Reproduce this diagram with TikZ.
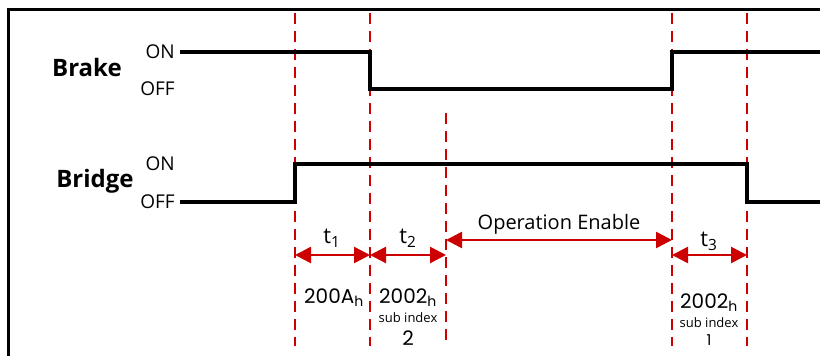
\documentclass[tikz,border=0pt]{standalone}
\usepackage{fontspec}
\setmainfont{Open Sans}
\newfontfamily\hexfont{Poppins}
\usetikzlibrary{arrows.meta}
\definecolor{markred}{RGB}{204,0,0}

\tikzset{
  signal/.style={line width=3.3pt, line join=miter},
  marker/.style={markred, line width=2pt, dash pattern=on 11pt off 7pt},
  span/.style={markred, line width=2.5pt,
    {Triangle[length=16pt,width=16pt]}-{Triangle[length=16pt,width=16pt]}},
  level/.style={anchor=east, inner sep=1pt, font=\fontsize{19}{19}\selectfont},
  channel/.style={inner sep=0pt, font=\bfseries\fontsize{24}{24}\selectfont},
  phase/.style={inner sep=0pt, font=\fontsize{22}{22}\selectfont},
  objno/.style={inner sep=0pt, font=\hexfont\fontsize{20}{20}\selectfont},
  subno/.style={inner sep=0pt, font=\fontsize{13}{13}\selectfont},
}

\begin{document}
\begin{tikzpicture}[x=1pt, y=-1pt]
  \clip (0,0) rectangle (820,356);
  % Frame
  \draw[line width=3pt] (8,9) rectangle (860,420);

  % Time markers
  \foreach \name/\x/\top in {m1/295/13, m2/370/13, m3/446/113, m4/672/13, m5/747/13} {
    \draw[marker] (\x,\top) -- (\x,346);
    \coordinate (\name) at (\x,0);
  }

  % Brake
  \node[channel] (brake) at (87,67) {Brake};
  \node[level] (brakeOn) at (176,52) {ON};
  \node[level] (brakeOff) at (176,89) {OFF};
  \draw[signal] ([xshift=4pt]brakeOn.east) -- (m2 |- brakeOn) -- (m2 |- brakeOff)
    -- (m4 |- brakeOff) -- (m4 |- brakeOn) -- (830,52);

  % Bridge
  \node[channel] (bridge) at (95,181) {Bridge};
  \node[level] (bridgeOn) at (176,164) {ON};
  \node[level] (bridgeOff) at (176,202) {OFF};
  \draw[signal] ([xshift=4pt]bridgeOff.east) -- (m1 |- bridgeOff) -- (m1 |- bridgeOn)
    -- (m5 |- bridgeOn) -- (m5 |- bridgeOff) -- (830,202);

  % Phases
  \draw[span] (m1 |- 0,255) -- (m2 |- 0,255);
  \draw[span] (m2 |- 0,255) -- (m3 |- 0,255);
  \draw[span] (m3 |- 0,240) -- (m4 |- 0,240);
  \draw[span] (m4 |- 0,255) -- (m5 |- 0,255);
  \node[phase] (t1) at (332,238) {t\textsubscript{1}};
  \node[phase] (t2) at (408,238) {t\textsubscript{2}};
  \node[phase, font=\fontsize{20}{20}\selectfont] (opEnable) at (559,224) {Operation Enable};
  \node[phase] (t3) at (709,241) {t\textsubscript{3}};

  % Objects
  \node[objno] (objA) at (334,298) {200A\textsubscript{h}};
  \node[objno] (objB) at (408,298) {2002\textsubscript{h}};
  \node[subno] (subB) at (408,318) {sub index};
  \node[objno] (idxB) at (408,338) {2};
  \node[objno] (objC) at (709,303) {2002\textsubscript{h}};
  \node[subno] (subC) at (709,323) {sub index};
  \node[objno, font=\hexfont\fontsize{15}{15}\selectfont] (idxC) at (709,340) {1};
\end{tikzpicture}
\end{document}
